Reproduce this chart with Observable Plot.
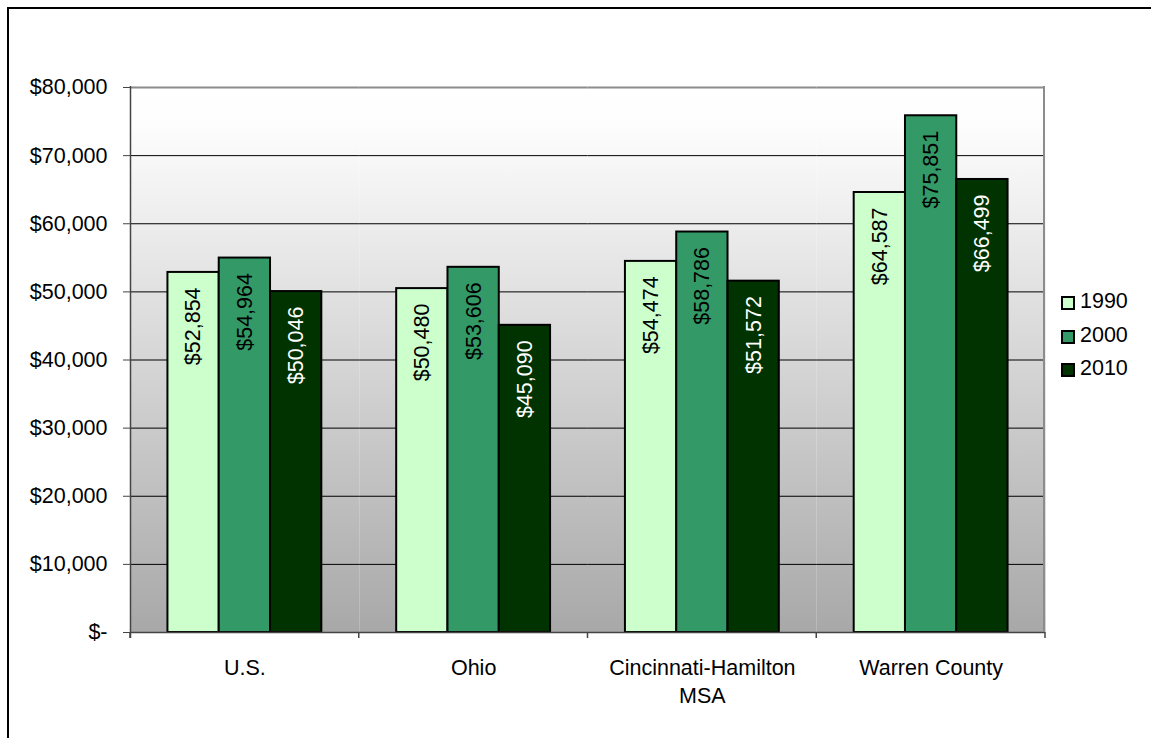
<!DOCTYPE html>
<html><head><meta charset="utf-8">
<script src="https://cdn.jsdelivr.net/npm/d3@7"></script>
<script src="https://cdn.jsdelivr.net/npm/@observablehq/plot@0.6"></script>
<style>
html,body{margin:0;padding:0;background:#fff;overflow:hidden;width:1151px;height:738px;}
body{position:relative;font-family:"Liberation Sans",Arial,sans-serif;}
#chart{position:absolute;left:0;top:0;}
#border{position:absolute;left:7px;top:7px;width:1200px;height:800px;border:2px solid #000;box-sizing:border-box;pointer-events:none;}
.sw{position:absolute;width:14px;height:14px;border:2px solid #000;box-sizing:border-box;}
.lt{position:absolute;font-size:21.5px;line-height:21px;color:#000;white-space:nowrap;}
</style></head><body>
<div id="chart"></div><div id="border"></div><div id="legend"></div>
<script>
const categories = ["U.S.", "Ohio", "Cincinnati-Hamilton\nMSA", "Warren County"];
const years = ["1990", "2000", "2010"];
const values1990 = [52854, 50480, 54474, 64587];
const values2000 = [54964, 53606, 58786, 75851];
const values2010 = [50046, 45090, 51572, 66499];
const yTicks = [0, 10000, 20000, 30000, 40000, 50000, 60000, 70000, 80000];
const gridTicks = [10000, 20000, 30000, 40000, 50000, 60000, 70000];
const barColors = ["#CCFFCC", "#339966", "#003300"];
const labelColors = ["#000000", "#000000", "#FFFFFF"];

const series = [values1990, values2000, values2010];
const data = [];
categories.forEach((c, i) => years.forEach((y, j) => data.push({cat: c, year: y, value: series[j][i], lc: labelColors[j]})));
const fmt = d3.format("$,");
const yFmt = d => d === 0 ? "$-" : fmt(d);
const FS = 21.5;

const textMarks = labelColors.filter((c, i, a) => a.indexOf(c) === i).map(c =>
  Plot.text(data.filter(d => d.lc === c), {
    fx: "cat", x: "year", y: "value", text: d => fmt(d.value),
    rotate: -90, textAnchor: "end", lineAnchor: "middle", dy: 15,
    fill: c, fontSize: FS
  })
);

const plot = Plot.plot({
  width: 1151, height: 738,
  marginLeft: 130, marginRight: 106, marginTop: 87, marginBottom: 106,
  style: {background: "transparent", fontFamily: "'Liberation Sans', Arial, sans-serif", fontSize: FS + "px", color: "#000"},
  fx: {domain: categories, padding: 0, axis: null, round: false},
  x: {domain: years, paddingInner: 0, paddingOuter: 0.73, axis: null, round: false},
  y: {domain: [0, 80000], axis: null},
  color: {domain: years, range: barColors},
  marks: [
    Plot.frame({fill: "url(#bgGrad)", stroke: "none"}),
    Plot.gridY(gridTicks, {stroke: "#000", strokeOpacity: 1, strokeWidth: 1}),
    Plot.ruleY([80000], {stroke: "#8c8c8c", strokeWidth: 2}),
    Plot.axisY({ticks: yTicks, tickSize: 7, tickPadding: 16, tickFormat: yFmt, label: null, stroke: "#444", fontSize: FS}),
    Plot.barY(data, {fx: "cat", x: "year", y: "value", fill: "year", stroke: "#000", strokeWidth: 2}),
    Plot.ruleY([0], {stroke: "#444", strokeWidth: 1.5}),
    ...textMarks,
    Plot.text(categories, {fx: d => d, text: d => d, frameAnchor: "bottom", lineAnchor: "top", dy: 23, lineHeight: 1.3, fontSize: FS, fill: "#000"})
  ]
});

document.getElementById("chart").appendChild(plot);

// gradient definition
const NS = "http://www.w3.org/2000/svg";
const defs = document.createElementNS(NS, "defs");
defs.innerHTML = '<linearGradient id="bgGrad" x1="0" y1="0" x2="0" y2="1">' +
  '<stop offset="0" stop-color="#ffffff"/><stop offset="0.07" stop-color="#fdfdfd"/><stop offset="1" stop-color="#a8a8a8"/></linearGradient>';
plot.insertBefore(defs, plot.firstChild);

// frame sides and category boundary ticks from the fx / y scales
const fxS = plot.scale("fx");
const yS = plot.scale("y");
const n = fxS.domain.length;
const r0 = fxS.range[0], r1 = fxS.range[1];
const start = r0 + (r1 - r0 - fxS.step * n) * (fxS.align ?? 0.5);
const bounds = d3.range(n + 1).map(i => start + i * fxS.step);
const yBottom = Math.max(...yS.range), yTop = Math.min(...yS.range);
const g = d3.select(plot).append("g");
g.append("line").attr("x1", bounds[n] - 1).attr("x2", bounds[n] - 1).attr("y1", yTop - 1).attr("y2", yBottom)
  .attr("stroke", "#8c8c8c").attr("stroke-width", 2);
g.append("line").attr("x1", bounds[0] + 0.5).attr("x2", bounds[0] + 0.5).attr("y1", yTop - 1).attr("y2", yBottom + 6)
  .attr("stroke", "#444").attr("stroke-width", 1.5);
g.selectAll("line.tk").data(bounds).join("line").attr("class", "tk")
  .attr("x1", d => d).attr("x2", d => d).attr("y1", yBottom).attr("y2", yBottom + 6)
  .attr("stroke", "#444").attr("stroke-width", 1.5);

// legend
const leg = document.getElementById("legend");
years.forEach((y, i) => {
  const top = 296 + i * 33.5;
  const sw = document.createElement("div");
  sw.className = "sw"; sw.style.left = "1061px"; sw.style.top = top + "px"; sw.style.background = barColors[i];
  const t = document.createElement("div");
  t.className = "lt"; t.style.left = "1080px"; t.style.top = (top - 4.8) + "px"; t.textContent = y;
  leg.appendChild(sw); leg.appendChild(t);
});
</script>
</body></html>
